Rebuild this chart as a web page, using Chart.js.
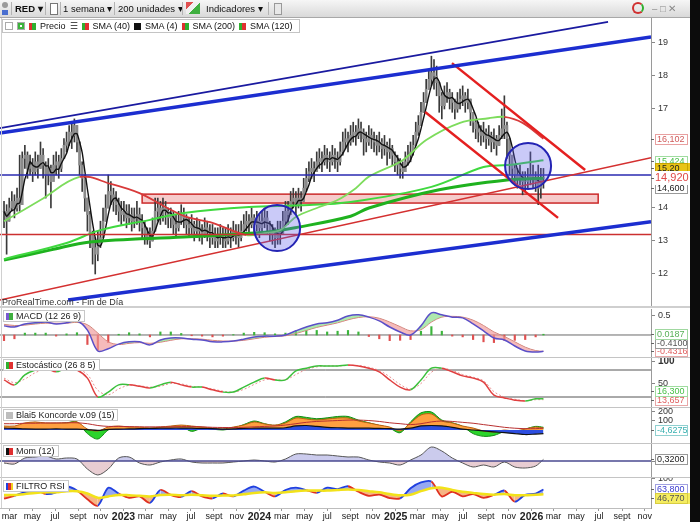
<!DOCTYPE html>
<html lang="es">
<head>
<meta charset="utf-8">
<title>RED - 1 semana</title>
<script src="https://cdn.jsdelivr.net/npm/chart.js@4.4.1/dist/chart.umd.min.js"></script>
<style>
  body { margin:0; width:700px; height:522px; position:relative; overflow:hidden; background:#fff;
         font-family:"Liberation Sans", Arial, sans-serif; font-size:9px; color:#111; }
  canvas { position:absolute; left:0; }
  .abs { position:absolute; }
  #toolbar { left:0; top:0; width:690px; height:17px; background:linear-gradient(#f6f6f6,#d9d9d9); border-bottom:1px solid #a8a8a8; }
  #toolbar .t { position:absolute; top:3px; font-size:9.5px; white-space:nowrap; color:#111; }
  .sep { position:absolute; top:2px; width:1px; height:13px; background:#b4b4b4; }
  .hline { position:absolute; left:0; width:690px; height:1px; background:#c4c4c4; }
  .title { position:absolute; left:3px; height:10px; line-height:10px; padding:0 3px 0 2px; background:#fff;
           border:1px solid #c8c8c8; font-size:9px; white-space:nowrap; color:#222; }
  .ic { display:inline-block; width:7px; height:7px; margin-right:3px; vertical-align:-1px; }
  #legend { left:2px; top:19px; height:12px; line-height:12px; padding:0 2px; background:#fff; border:1px solid #c4c4c4; white-space:nowrap; font-size:9px; }
  #legend span { margin-right:4px; }
  #strip { left:690px; top:0; width:10px; height:522px; background:#0c0c0c; }
</style>
</head>
<body>
<canvas id="cMain" width="690" height="288" style="top:18px"></canvas>
<canvas id="cMacd" width="690" height="48" style="top:309px"></canvas>
<canvas id="cSto" width="690" height="49" style="top:358px"></canvas>
<canvas id="cKon" width="690" height="35" style="top:408px"></canvas>
<canvas id="cMom" width="690" height="33" style="top:444px"></canvas>
<canvas id="cRsi" width="690" height="44" style="top:478px"></canvas>

<div class="hline" style="top:306px;height:2px;background:#cfcfcf"></div>
<div class="hline" style="top:357px"></div>
<div class="hline" style="top:407px"></div>
<div class="hline" style="top:443px"></div>
<div class="hline" style="top:477px"></div>
<div class="abs" style="left:1px;top:18px;width:1px;height:490px;background:#d0d0d0"></div>

<div id="toolbar" class="abs">
  <span class="abs" style="left:2px;top:2px;width:6px;height:6px;border-radius:3px;background:#9a9a9a"></span>
  <span class="abs" style="left:2px;top:10px;width:6px;height:5px;background:#4a6fd0"></span>
  <div class="sep" style="left:11px"></div>
  <span class="t" style="left:15px;font-weight:bold">RED ▾</span>
  <div class="sep" style="left:45px"></div>
  <span class="abs" style="left:50px;top:3px;width:6px;height:10px;border:1px solid #777;background:#fff"></span>
  <div class="sep" style="left:60px"></div>
  <span class="t" style="left:63px">1 semana ▾</span>
  <div class="sep" style="left:114px"></div>
  <span class="t" style="left:118px">200 unidades ▾</span>
  <div class="sep" style="left:182px"></div>
  <span class="abs" style="left:186px;top:2px;width:14px;height:12px;background:linear-gradient(135deg,#e05050 0,#e05050 30%,#f0f0f0 30%,#f0f0f0 55%,#40b040 55%)"></span>
  <span class="t" style="left:206px">Indicadores ▾</span>
  <div class="sep" style="left:268px"></div>
  <span class="abs" style="left:274px;top:3px;width:6px;height:10px;border:1px solid #999;background:#e8e8e8"></span>
  <span class="abs" style="left:632px;top:2px;width:12px;height:12px;border-radius:6px;border:2px solid #d03030;border-right-color:#30b030;box-sizing:border-box"></span>
  <span class="t" style="left:652px;color:#888">– □ ✕</span>
</div>

<div id="legend" class="abs">
  <span class="ic" style="background:#fff;border:1px solid #aaa;color:#d02020;width:6px;height:6px"></span><span class="ic" style="background:#fff;border:1px solid #aaa;width:6px;height:6px;box-shadow:inset 0 0 0 2px #3cb43c"></span><span class="ic" style="background:linear-gradient(90deg,#e03030 50%,#30b030 50%)"></span><span>Precio</span><span>☰</span><span class="ic" style="background:linear-gradient(90deg,#30b030 50%,#e03030 50%)"></span><span>SMA (40)</span><span class="ic" style="background:#111"></span><span>SMA (4)</span><span class="ic" style="background:linear-gradient(90deg,#e03030 50%,#30b030 50%)"></span><span>SMA (200)</span><span class="ic" style="background:linear-gradient(90deg,#30b030 50%,#e03030 50%)"></span><span>SMA (120)</span>
</div>
<div class="abs" style="left:2px;top:297px;font-size:9px;color:#333">ProRealTime.com - Fin de Día</div>

<div class="title" style="top:310px"><span class="ic" style="background:linear-gradient(90deg,#7a5ad0 50%,#40b040 50%)"></span>MACD (12 26 9)</div>
<div class="title" style="top:359px"><span class="ic" style="background:linear-gradient(90deg,#30b030 50%,#e03030 50%)"></span>Estocástico (26 8 5)</div>
<div class="title" style="top:409px"><span class="ic" style="background:#bdbdbd"></span>Blai5 Koncorde v.09 (15)</div>
<div class="title" style="top:445px"><span class="ic" style="background:linear-gradient(90deg,#111 50%,#e03030 50%)"></span>Mom (12)</div>
<div class="title" style="top:480px"><span class="ic" style="background:linear-gradient(90deg,#2040e0 35%,#e03030 35%,#e03030 70%,#f0d020 70%)"></span>FILTRO RSI</div>
<div id="strip" class="abs"></div>

<script>
const FONT = '"Liberation Sans", Arial, sans-serif';
const START = Date.parse('2022-02-14');       // week 0
const WEEK = 7 * 864e5;
const wk = d => (Date.parse(d) - START) / WEEK;
const X_MIN = -1.54, X_MAX = 248.27;

// weekly bars (week 0 = 2022-02-14)
const closes = [
  13.9,13.6,14.0,14.2,14.0,14.3,14.1,15.5,15.6,15.2,15.3,15.1,15.4,
  15.2,15.6,15.3,15.0,15.2,14.8,15.3,15.4,15.2,15.5,15.9,16.0,16.3,
  16.2,16.5,16.0,15.3,14.9,14.3,13.8,13.2,12.8,12.6,12.9,13.1,13.6,
  14.0,14.5,14.4,14.2,14.1,13.9,13.8,13.9,13.7,13.8,13.6,13.7,13.8,
  13.6,13.4,13.2,13.1,13.0,13.3,13.9,14.0,13.8,14.0,13.9,13.7,13.8,
  13.5,13.4,13.6,13.8,13.7,13.5,13.4,13.5,13.3,13.4,13.3,13.2,13.4,
  13.3,13.1,13.2,13.0,13.1,13.2,13.1,13.0,13.2,13.1,13.3,13.2,13.1,
  13.3,13.5,13.6,13.5,13.7,13.5,13.6,13.4,13.6,13.7,13.5,13.3,13.2,
  13.1,13.3,13.2,13.6,13.9,13.8,14.2,14.3,14.1,14.3,14.2,14.6,14.9,
  15.1,15.2,15.1,15.4,15.5,15.4,15.6,15.5,15.4,15.6,15.5,15.4,15.7,
  16.0,16.1,16.0,16.2,16.3,16.2,16.4,16.3,16.1,16.0,16.2,16.1,16.0,
  15.9,16.0,15.8,15.9,15.7,15.8,15.6,15.4,15.3,15.2,15.1,15.4,15.6,
  15.7,15.9,16.3,16.5,16.9,17.2,17.6,17.9,18.1,18.0,17.8,17.4,17.1,
  17.4,17.5,17.3,17.2,17.0,17.2,17.3,17.4,17.2,17.3,16.9,16.6,16.4,
  16.3,16.2,16.3,16.1,16.2,16.0,16.1,15.9,16.2,16.4,16.5,16.1,15.6,
  15.2,15.0,14.9,15.0,14.8,14.8,14.9,15.0,14.9,14.8,14.6,14.9,14.92
];
const highs = [
  14.2,14.1,14.3,14.5,14.4,14.6,15.6,15.7,15.9,15.7,15.6,15.5,15.7,
  15.6,16.0,15.8,15.4,15.5,15.3,15.6,15.7,15.6,15.8,16.1,16.3,16.5,
  16.6,16.7,16.5,16.0,15.4,15.0,14.3,13.9,13.3,13.1,13.3,13.6,14.0,
  14.4,15.0,14.8,14.6,14.5,14.3,14.2,14.2,14.1,14.1,14.0,14.0,14.2,
  14.0,13.8,13.6,13.4,13.4,13.7,14.3,14.3,14.2,14.3,14.2,14.0,14.0,
  13.9,13.8,13.9,14.1,14.0,13.8,13.7,13.8,13.6,13.7,13.6,13.5,13.7,
  13.6,13.5,13.5,13.4,13.4,13.5,13.4,13.4,13.5,13.4,13.6,13.5,13.5,
  13.6,13.8,13.9,13.8,14.0,13.8,13.9,13.8,13.9,14.0,13.9,13.6,13.5,
  13.4,13.6,13.6,13.9,14.2,14.2,14.5,14.6,14.5,14.6,14.5,14.9,15.2,
  15.4,15.5,15.4,15.7,15.8,15.7,15.9,15.8,15.7,15.9,15.8,15.7,16.0,
  16.3,16.4,16.3,16.5,16.6,16.5,16.7,16.6,16.4,16.3,16.5,16.4,16.3,
  16.2,16.3,16.1,16.2,16.0,16.1,15.9,15.7,15.6,15.5,15.4,15.7,15.9,
  16.0,16.2,16.6,16.8,17.2,17.5,17.9,18.2,18.6,18.5,18.3,17.8,17.5,
  17.7,17.8,17.6,17.5,17.3,17.5,17.6,17.7,17.5,17.6,17.3,16.9,16.7,
  16.6,16.5,16.6,16.4,16.5,16.3,16.4,16.2,16.5,17.0,17.4,16.6,16.1,
  15.6,15.3,15.2,15.3,15.1,15.1,15.2,15.7,15.3,15.1,15.3,15.2,15.2
];
const lows = [
  13.4,12.6,13.6,13.9,13.7,13.9,13.9,14.6,15.2,14.9,15.0,14.8,15.0,
  14.9,15.2,14.9,14.3,14.7,14.0,14.9,15.0,14.9,15.1,15.5,15.7,15.9,
  15.8,16.0,15.7,15.0,14.5,13.9,13.3,12.8,12.3,12.0,12.4,12.8,13.1,
  13.6,14.0,14.1,13.9,13.8,13.6,13.5,13.6,13.4,13.5,13.3,13.4,13.5,
  13.3,13.1,12.9,12.9,12.8,13.0,13.3,13.6,13.5,13.6,13.5,13.4,13.4,
  13.2,13.1,13.3,13.5,13.4,13.2,13.1,13.2,13.0,13.1,13.0,12.9,13.1,
  13.0,12.8,12.9,12.8,12.8,12.9,12.8,12.8,12.9,12.8,13.0,12.9,12.8,
  13.0,13.2,13.3,13.2,13.4,13.2,13.3,13.1,13.3,13.4,13.2,13.0,12.9,
  12.8,12.9,12.9,13.2,13.5,13.5,13.8,14.0,13.8,14.0,13.9,14.2,14.5,
  14.8,14.9,14.8,15.1,15.2,15.1,15.3,15.2,15.1,15.3,15.2,15.1,15.3,
  15.6,15.8,15.7,15.9,16.0,15.9,16.1,16.0,15.6,15.7,15.9,15.8,15.7,
  15.6,15.7,15.5,15.6,15.3,15.5,15.3,15.1,15.0,14.9,14.9,15.1,15.3,
  15.4,15.6,15.9,16.2,16.5,16.9,17.2,17.6,17.7,17.6,17.4,16.9,16.7,
  17.0,17.2,17.0,16.9,16.7,16.9,17.0,17.1,16.9,17.0,16.5,16.3,16.1,
  16.0,15.9,16.0,15.8,15.9,15.7,15.8,15.6,15.9,16.1,16.1,15.5,15.0,
  14.9,14.7,14.6,14.7,14.4,14.5,14.6,14.7,14.6,14.5,14.1,14.3,14.6
];

// moving averages: [week, value]
const sma40 = [[0,13.6],[14,14.24],[29,14.94],[41,14.73],[52,14.45],[62,14.03],[70,13.73],[80,13.55],[93,13.18],[100,13.24],[106,13.33],[112,13.73],[121,14.03],[128,14.24],[135,14.6],[140,14.95],[153,15.45],[162,16.06],[175,16.58],[186,16.72],[192,16.76],[199,16.58],[207,16.1]];
const sma120 = [[0,12.45],[24,12.94],[37,13.33],[56,13.64],[69,13.85],[94,14.03],[114,14.08],[133,14.18],[164,14.64],[184,15.24],[193,15.3],[207,15.45]];
const sma200 = [[0,12.42],[18,12.73],[33,12.97],[69,13.12],[101,13.27],[113,13.42],[133,13.75],[140,14.0],[167,14.55],[193,14.85],[207,14.9]];

// drawn objects: [week1, price1, week2, price2]
const blueChannel = [[-1.54,16.27,248.27,19.18],[24.6,11.21,248.27,13.58]];
const blueThin = [[-1.54,16.42,231.8,19.64]];
const redDiag = [[-1.54,11.21,248.27,15.52]];
const redChannel = [[161.6,16.91,212.6,13.7],[171.9,18.39,223,15.15]];
const blueLevel = 15.0, redLevel = 13.2;
const zone = [53, 228, 14.15, 14.42];
const circles = [[104.8,13.39],[201.1,15.27]];

// right-axis last values
const priceTags = [16.102, 15.424, 15.20, 14.600, 14.920];
const priceTagText = ['16,102','15,424','15,20','14,600','14,920'];

// indicators, sampled every 4 weeks (last sample = week 207)
const macdLine = [0.24,0.21,0.29,0.32,0.34,0.29,0.32,0.37,0.13,-0.42,-0.36,-0.24,-0.18,-0.18,-0.26,-0.13,-0.08,-0.08,-0.11,-0.13,-0.18,-0.18,-0.16,-0.11,-0.05,-0.03,-0.03,0,0.11,0.21,0.29,0.32,0.39,0.5,0.53,0.47,0.37,0.21,0.08,0,0.24,0.58,0.53,0.47,0.45,0.29,0.11,-0.08,-0.13,-0.29,-0.42,-0.45,-0.43];
const macdSignal = [0.28,0.25,0.26,0.29,0.31,0.31,0.31,0.33,0.27,0.05,-0.18,-0.25,-0.22,-0.2,-0.22,-0.19,-0.14,-0.1,-0.1,-0.11,-0.14,-0.16,-0.16,-0.14,-0.1,-0.06,-0.04,-0.02,0.04,0.12,0.2,0.26,0.32,0.4,0.46,0.48,0.44,0.34,0.22,0.11,0.14,0.34,0.47,0.49,0.47,0.39,0.25,0.08,-0.04,-0.18,-0.32,-0.41,-0.43];
const macdHist = [-0.15,-0.1,0.05,0.05,0.05,-0.03,0.03,0.06,-0.25,-0.4,-0.2,0.02,0.06,0.03,-0.05,0.08,0.08,0.04,-0.02,-0.03,-0.05,-0.03,0.01,0.05,0.07,0.06,0.03,0.05,0.1,0.12,0.12,0.08,0.1,0.12,0.08,-0.04,-0.1,-0.15,-0.14,-0.12,0.1,0.22,0.1,-0.03,-0.05,-0.12,-0.18,-0.2,-0.14,-0.14,-0.12,-0.05,0.02];
const macdTags = [0.0187, -0.41, -0.4316];
const macdTagText = ['0.0187','-0.4100','-0.4316'];

const stochK = [58,47,69,80,84,76,84,80,62,20,31,47,47,44,40,47,53,47,42,42,36,31,31,42,53,62,58,58,78,84,89,89,89,91,89,84,76,58,42,36,58,84,84,76,67,62,53,24,18,13,11,16,16];
const stochD = [62,52,60,74,82,79,81,82,70,35,25,38,46,45,42,44,50,49,44,42,38,33,31,37,48,58,59,58,70,81,87,89,89,90,90,86,79,65,48,38,50,75,84,79,70,64,56,32,20,15,12,14,14];
const stochTags = [16.3, 13.657];
const stochTagText = ['16,300','13,657'];

const konGreen = [40,30,70,85,70,70,80,90,-40,-100,0,30,20,20,10,20,30,40,-15,20,10,0,20,60,100,70,50,90,150,140,125,135,150,150,110,80,50,20,-30,90,190,200,110,80,40,-40,-70,-60,-20,-30,10,40,30];
const konOrange = [44,44,78,89,78,78,78,89,11,-11,33,44,33,33,22,33,44,55,44,33,22,11,33,55,89,67,55,78,133,122,111,122,133,133,100,78,55,33,-11,78,167,178,100,78,44,22,-11,-22,0,-11,11,33,22];
const konBlue = [20,18,12,10,10,12,10,10,5,-5,8,10,12,15,18,20,22,22,20,18,15,10,12,18,20,22,20,25,45,50,40,30,25,22,20,20,18,15,10,20,45,50,45,30,10,0,-10,-20,-30,-40,-50,-45,-40];
const konMedia = [70,70,75,75,78,78,80,80,70,50,40,40,38,35,35,35,35,38,38,35,30,28,28,30,35,40,45,55,70,85,95,100,105,110,110,105,95,80,70,60,70,90,100,95,85,75,60,45,30,20,15,15,20];
const konTags = [-4.6275];
const konTagText = ['-4,6275'];

const mom = [-0.4,-0.6,0.6,0.8,1.0,0.4,0.6,0.4,-1.6,-2.8,-1.6,0.6,0.8,-0.4,-0.8,-0.2,0.2,0.4,-0.2,-0.4,-0.4,-0.4,-0.2,0,0.2,0,-0.2,0.4,1.4,1.4,1.2,1.2,1.0,0.8,0.8,0.2,-0.2,-0.4,-0.8,0.2,1.2,2.8,2.0,0.6,-0.4,-1.2,-0.8,-1.2,-0.2,-1.2,-1.4,-1.0,0.32];
const momTags = [0.32];
const momTagText = ['0,3200'];

const rsi = [32,42,55,62,48,54,74,60,30,8,70,50,35,40,18,62,45,38,58,40,33,50,40,60,74,56,40,62,70,62,52,70,65,75,56,42,46,34,33,68,88,91,40,56,40,48,35,45,60,22,45,50,64];
const rsiSmooth = [45,45,48,52,54,54,58,58,50,35,40,45,44,42,40,45,46,44,46,44,42,43,43,47,52,54,52,54,58,60,60,60,62,64,62,58,54,48,44,46,58,68,70,62,56,52,48,46,48,44,44,46,47];
const rsiTags = [63.8, 46.77];
const rsiTagText = ['63,800','46,770'];

// x axis labels
const tickDates = ['2022-03-01','2022-05-01','2022-07-01','2022-09-01','2022-11-01',
  '2023-01-01','2023-03-01','2023-05-01','2023-07-01','2023-09-01','2023-11-01',
  '2024-01-01','2024-03-01','2024-05-01','2024-07-01','2024-09-01','2024-11-01',
  '2025-01-01','2025-03-01','2025-05-01','2025-07-01','2025-09-01','2025-11-01',
  '2026-01-01','2026-03-01','2026-05-01','2026-07-01','2026-09-01','2026-11-01'];
const tickNames = ['mar','may','jul','sept','nov','2023','mar','may','jul','sept','nov',
  '2024','mar','may','jul','sept','nov','2025','mar','may','jul','sept','nov',
  '2026','mar','may','jul','sept','nov'];

const sampleWeek = k => (k < 52 ? 4 * k : 207);
const pts = arr => arr.map((v, k) => ({ x: sampleWeek(k), y: v }));
const pairs = arr => arr.map(([w, v]) => ({ x: w, y: v }));
const seg = ([w1, p1, w2, p2]) => [{ x: w1, y: p1 }, { x: w2, y: p2 }];
const hline = v => [{ x: X_MIN, y: v }, { x: X_MAX, y: v }];
const tagList = (vals, texts, styles) => vals.map((v, i) => Object.assign({ v, text: texts[i] }, styles[i]));

Chart.defaults.font.family = FONT;
Chart.defaults.font.size = 9;
Chart.defaults.color = '#333';

/* value boxes on the right axis */
const tagPlugin = {
  id: 'tags',
  afterDraw(chart, _a, opts) {
    const list = opts.list;
    if (!list || !list.length) return;
    const { ctx, chartArea } = chart;
    const y = chart.scales.y;
    const items = list.map(t => Object.assign({}, t, { py: y.getPixelForValue(t.v) }));
    const gap = opts.gap || 9;
    if (opts.dir === 'up') {
      items.sort((a, b) => b.py - a.py);
      let lim = chartArea.bottom - 5;
      items.forEach(t => { t.py = Math.min(t.py, lim); lim = t.py - gap; });
    } else if (opts.dir === 'down') {
      items.sort((a, b) => a.py - b.py);
      let lim = chartArea.top + 5;
      items.forEach(t => { t.py = Math.max(t.py, lim); lim = t.py + gap; });
    }
    items.sort((a, b) => (a.big ? 1 : 0) - (b.big ? 1 : 0));
    const x0 = chartArea.right + 4;
    items.forEach(t => {
      ctx.save();
      const h = t.big ? 13 : 10;
      const top = Math.round(t.py - h / 2) + 0.5;
      ctx.fillStyle = t.bg || '#fff';
      ctx.fillRect(x0, top - 0.5, 35, h + 1);
      if (t.border) {
        ctx.strokeStyle = t.border; ctx.lineWidth = 1;
        ctx.strokeRect(x0 + 0.5, top, 32, h);
      }
      ctx.strokeStyle = '#666'; ctx.lineWidth = 1;
      ctx.beginPath();
      ctx.moveTo(chartArea.right, Math.round(t.py) + 0.5);
      ctx.lineTo(chartArea.right + 3, Math.round(t.py) + 0.5);
      ctx.stroke();
      ctx.font = (t.big ? '11px ' : '9px ') + FONT;
      ctx.fillStyle = t.color; ctx.textBaseline = 'middle'; ctx.textAlign = 'left';
      ctx.fillText(t.text, x0 + (t.big ? 0 : 2), t.py + 0.5);
      ctx.restore();
    });
  }
};

/* support zone rectangle */
const zonePlugin = {
  id: 'zone',
  beforeDatasetsDraw(chart, _a, opts) {
    if (!opts.box) return;
    const [w1, w2, p1, p2] = opts.box;
    const { ctx, scales: { x, y } } = chart;
    const L = x.getPixelForValue(w1), R = x.getPixelForValue(w2);
    const T = y.getPixelForValue(p2), B = y.getPixelForValue(p1);
    ctx.save();
    ctx.fillStyle = 'rgba(236,140,140,0.45)';
    ctx.fillRect(L, T, R - L, B - T);
    ctx.strokeStyle = '#cc2a2a'; ctx.lineWidth = 1.5;
    ctx.strokeRect(L, T, R - L, B - T);
    ctx.restore();
  }
};
Chart.register(tagPlugin, zonePlugin);

function options(yMin, yMax, ticks) {
  return {
    responsive: false, animation: false, events: [],
    layout: { padding: 0, autoPadding: false },
    plugins: { legend: { display: false }, tooltip: { enabled: false } },
    scales: {
      x: { type: 'linear', min: X_MIN, max: X_MAX, offset: false, display: false },
      y: {
        position: 'right', min: yMin, max: yMax,
        afterBuildTicks: s => { s.ticks = ticks.map(v => ({ value: v })); },
        afterFit: s => { s.width = 39; s.paddingTop = 0; s.paddingBottom = 0; },
        ticks: { padding: 3, color: '#333', font: { size: 9 } },
        grid: { drawOnChartArea: false, tickLength: 4, color: '#888' },
        border: { color: '#9a9a9a' }
      }
    }
  };
}
const line = (data, color, width, more) => Object.assign({
  type: 'line', data, borderColor: color, borderWidth: width, pointRadius: 0, fill: false
}, more || {});
const upDown = (up, down) => ({ borderColor: c => (c.p1.parsed.y >= c.p0.parsed.y ? up : down) });

/* ---------- price panel ---------- */
const opens = closes.map((c, i) => (i ? closes[i - 1] : c));
const sma4 = closes.map((c, i) => {
  const w = closes.slice(Math.max(0, i - 3), i + 1);
  return w.reduce((a, b) => a + b, 0) / w.length;
});
const mainOpts = options(11.03, 19.7576, [12, 13, 14, 17, 18, 19]);
mainOpts.plugins.zone = { box: zone };
mainOpts.plugins.tags = {
  dir: 'none',
  list: tagList(priceTags, priceTagText, [
    { color: '#d05a5a', border: '#e8a0a0' },
    { color: '#46c046', border: '#a0dca0' },
    { color: '#222', bg: '#e8c417', border: '#c8a400' },
    { color: '#222', border: '#999' },
    { color: '#e04848', big: true }
  ])
};
new Chart(document.getElementById('cMain'), {
  type: 'line',
  data: {
    datasets: [
      line(circles.map(([w, p]) => ({ x: w, y: p })), '#2424b4', 2,
        { showLine: false, pointRadius: 23, pointBackgroundColor: 'rgba(95,95,235,0.33)', pointBorderColor: '#2424b4', pointBorderWidth: 2, order: 0 }),
      ...blueChannel.map(s => line(seg(s), '#1c2ed0', 3.5, { order: 1 })),
      ...blueThin.map(s => line(seg(s), '#1a1aa0', 1.6, { order: 1 })),
      ...redDiag.map(s => line(seg(s), '#d43030', 1.5, { order: 1 })),
      ...redChannel.map(s => line(seg(s), '#e42020', 2.5, { order: 1 })),
      line(hline(blueLevel), '#2a2ab0', 1.5, { order: 1 }),
      line(hline(redLevel), '#cc3030', 1.5, { order: 1 }),
      line(pairs(sma40), '#7ddc5c', 1.8, { tension: 0.35, segment: upDown('#7ddc5c', '#d83a3a'), order: 2 }),
      line(pairs(sma120), '#3fd93f', 2, { tension: 0.35, order: 2 }),
      line(pairs(sma200), '#1fb21f', 3, { tension: 0.35, order: 2 }),
      line(sma4.map((v, i) => ({ x: i, y: v })), '#111', 1.4, { tension: 0.2, order: 3 }),
      { type: 'bar', data: closes.map((c, i) => ({ x: i, y: [Math.min(opens[i], c), Math.max(opens[i], c)] })),
        backgroundColor: '#8a8a8a', barThickness: 2, grouped: false, order: 4 },
      { type: 'bar', data: closes.map((c, i) => ({ x: i, y: [lows[i], highs[i]] })),
        backgroundColor: '#3a3a3a', barThickness: 1, grouped: false, order: 5 }
    ]
  },
  options: mainOpts
});

/* ---------- MACD ---------- */
const macdOpts = options(-0.579, 0.684, [0.5]);
macdOpts.plugins.tags = {
  dir: 'up', gap: 8,
  list: tagList(macdTags, macdTagText, [
    { color: '#58b058', border: '#a0d8a0' },
    { color: '#555', border: '#999' },
    { color: '#e06060', border: '#e8a8a8' }
  ])
};
new Chart(document.getElementById('cMacd'), {
  type: 'line',
  data: {
    datasets: [
      line(pts(macdLine), '#5a4fc8', 1.5, { tension: 0.35, fill: { target: 1, above: 'rgba(130,220,130,0.65)', below: 'rgba(240,150,150,0.65)' } }),
      line(pts(macdSignal), '#d87878', 1, { tension: 0.35 }),
      { type: 'bar', data: pts(macdHist), barThickness: 1.5, grouped: false,
        backgroundColor: c => (c.raw && c.raw.y >= 0 ? '#3cb43c' : '#e05050') },
      line(hline(0), '#6a6a6a', 1)
    ]
  },
  options: macdOpts
});

/* ---------- Estocástico ---------- */
const stoOpts = options(-2.2, 106.7, [50, 100]);
stoOpts.scales.y.ticks.font = c => (c.tick && c.tick.value === 100 ? { size: 10, weight: 'bold' } : { size: 9 });
stoOpts.plugins.tags = {
  dir: 'up', gap: 9,
  list: tagList(stochTags, stochTagText, [
    { color: '#46c046', border: '#a0dca0' },
    { color: '#e06060', border: '#e8a8a8' }
  ])
};
new Chart(document.getElementById('cSto'), {
  type: 'line',
  data: {
    datasets: [
      line(pts(stochK), '#e04040', 1.5, { tension: 0.35, segment: upDown('#3cc03c', '#e04040') }),
      line(pts(stochD), '#e89090', 1, { tension: 0.35, borderDash: [2, 2] }),
      line(hline(80), '#555', 1),
      line(hline(20), '#555', 1)
    ]
  },
  options: stoOpts
});

/* ---------- Koncorde ---------- */
const konOpts = options(-144, 244, [100, 200]);
konOpts.plugins.tags = { dir: 'none', list: tagList(konTags, konTagText, [{ color: '#38b0b0', border: '#90d0d0' }]) };
new Chart(document.getElementById('cKon'), {
  type: 'line',
  data: {
    datasets: [
      line(pts(konMedia), '#b83030', 1, { tension: 0.3, order: 0 }),
      line(pts(konBlue), '#111', 1.2, { tension: 0.3, fill: 'origin', backgroundColor: '#2d4ee0', order: 1 }),
      line(pts(konOrange), '#b86010', 1, { tension: 0.3, fill: 'origin', backgroundColor: '#ffa040', order: 2 }),
      line(pts(konGreen), '#138a13', 1, { tension: 0.3, fill: 'origin', backgroundColor: '#2bd42b', order: 3 })
    ]
  },
  options: konOpts
});

/* ---------- Momentum ---------- */
const momOpts = options(-3.2, 3.4, [0]);
momOpts.scales.y.ticks.callback = () => '';
momOpts.plugins.tags = { dir: 'none', list: tagList(momTags, momTagText, [{ color: '#222', border: '#999' }]) };
new Chart(document.getElementById('cMom'), {
  type: 'line',
  data: {
    datasets: [
      line(hline(0), '#4a4a90', 1.5),
      line(pts(mom), '#555', 1, { tension: 0.3, fill: { target: { value: 0 }, above: 'rgba(140,140,215,0.45)', below: 'rgba(205,145,155,0.45)' } })
    ]
  },
  options: momOpts
});

/* ---------- FILTRO RSI + x axis ---------- */
const rsiOpts = options(0, 103.4, [100]);
rsiOpts.scales.x = {
  type: 'linear', min: X_MIN, max: X_MAX, offset: false, position: 'bottom',
  afterBuildTicks: s => { s.ticks = tickDates.map(d => ({ value: wk(d) })); },
  afterFit: s => { s.height = 14; s.paddingLeft = 0; s.paddingRight = 0; },
  ticks: {
    autoSkip: false, maxRotation: 0, padding: 0, color: '#222',
    callback: (v, i) => tickNames[i],
    font: c => (/^\d{4}$/.test(tickNames[c.index]) ? { size: 10.5, weight: 'bold' } : { size: 9 })
  },
  grid: { drawOnChartArea: false, tickLength: 3, color: '#999' },
  border: { color: '#bdbdbd' }
};
rsiOpts.plugins.tags = {
  dir: 'down', gap: 9,
  list: tagList(rsiTags, rsiTagText, [
    { color: '#3a3ad0', border: '#a0a0e0' },
    { color: '#555', bg: '#f4ec60', border: '#d8cc40' }
  ])
};
new Chart(document.getElementById('cRsi'), {
  type: 'line',
  data: {
    datasets: [
      line(pts(rsi), '#e03020', 1.8, {
        tension: 0.3, order: 1,
        fill: { target: 1, above: 'rgba(80,110,235,0.6)', below: 'rgba(240,130,50,0.6)' },
        segment: { borderColor: c => (c.p1.parsed.y >= rsiSmooth[c.p1DataIndex] ? '#2040e0' : '#e03020') }
      }),
      line(pts(rsiSmooth), '#f2e21a', 2.5, { tension: 0.3, order: 0 })
    ]
  },
  options: rsiOpts
});
</script>
</body>
</html>
